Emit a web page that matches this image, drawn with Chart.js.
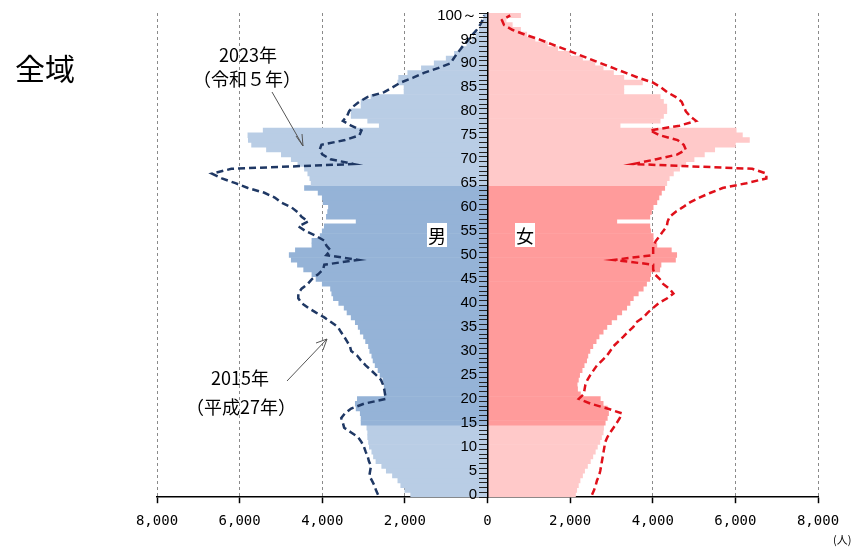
<!DOCTYPE html>
<html>
<head>
<meta charset="utf-8">
<script src="https://cdn.jsdelivr.net/npm/chart.js@4/dist/chart.umd.min.js"></script>
<style>
body { margin: 0; background: #fff; }
#wrap { position: relative; width: 854px; height: 550px; font-family: "Noto Sans CJK JP", sans-serif; }
#wrap canvas { position: absolute; left: 0; top: 0; }
.txt { position: absolute; line-height: 1; white-space: nowrap; color: #000; }
.c { transform: translateX(-50%); }
.sex { position: absolute; background: #fff; font-size: 18px; line-height: 24px; width: 20px; text-align: center; }
svg { position: absolute; left: 0; top: 0; }
</style>
</head>
<body>
<div id="wrap">
	<canvas id="pyramid" width="854" height="550"></canvas>
	<svg width="854" height="550">
		<g stroke="#555" stroke-width="1" fill="none">
			<line x1="272" y1="92" x2="303" y2="146"/>
			<polyline points="296,136 303,146 302,134"/>
			<line x1="287" y1="381" x2="327" y2="339"/>
			<polyline points="316,343 327,339 323,350"/>
		</g>
	</svg>
	<div class="txt" style="left:15px; top:52px; font-size:30px;">全域</div>
	<div class="txt c" style="left:248px; top:45px; font-size:18px;">2023年</div>
	<div class="txt c" style="left:247px; top:69px; font-size:18px;">（令和５年）</div>
	<div class="txt c" style="left:240px; top:368px; font-size:18px;">2015年</div>
	<div class="txt c" style="left:241px; top:397px; font-size:18px;">（平成27年）</div>
	<div class="sex" style="left:427px; top:223px;">男</div>
	<div class="sex" style="left:515px; top:223px;">女</div>
	<div class="txt" style="left:833px; top:534px; font-size:11px;">(人)</div>
</div>
<script>
// 年齢 0〜100歳以上
const ageLabels = Array.from({ length: 101 }, (_, i) => i === 100 ? '100～' : String(i));

// 2023年（令和5年） 男・女 （index = 年齢）
const male2023 = [
	1860, 2000, 2100, 2170, 2300, 2450, 2560, 2700, 2760, 2800,
	2860, 2880, 2900, 2900, 2920, 3060, 3060, 3080, 3180, 3200,
	3150, 2500, 2500, 2500, 2530, 2600, 2650, 2720, 2770, 2800,
	2850, 2880, 2950, 3000, 3080, 3130, 3200, 3300, 3400, 3470,
	3600, 3730, 3770, 3800, 4000, 4150, 4250, 4450, 4600, 4750,
	4800, 4650, 4250, 4250, 4050, 4000, 3950, 3180, 3900, 3870,
	3850, 3980, 4000, 4100, 4430, 4270, 4300, 4350, 4430, 4590,
	4750, 4990, 5350, 5710, 5790, 5800, 5430, 2620, 2900, 3300,
	3300, 3060, 3060, 2820, 2020, 2020, 2170, 2150, 1930, 1600,
	1290, 1000, 800, 640, 500, 370, 280, 200, 140, 100,
	90
];
const female2023 = [
	2130, 2160, 2200, 2240, 2300, 2350, 2420, 2490, 2550, 2610,
	2660, 2720, 2760, 2800, 2810, 2850, 2900, 2930, 2900, 2800,
	2730, 2250, 2180, 2170, 2200, 2230, 2290, 2340, 2400, 2430,
	2480, 2550, 2630, 2700, 2800, 2890, 3000, 3130, 3250, 3370,
	3450, 3530, 3650, 3770, 3850, 3930, 3950, 4170, 4200, 4550,
	4580, 4450, 4100, 4010, 4010, 3950, 3930, 3130, 3930, 3970,
	4010, 4100, 4150, 4210, 4290, 4340, 4400, 4500, 4650, 4800,
	5000, 5250, 5500, 6000, 6340, 6170, 6020, 3210, 4180, 4260,
	4340, 4340, 4260, 4180, 3300, 3300, 3750, 3300, 3050, 2800,
	2600, 2300, 2000, 1700, 1450, 1150, 950, 800, 600, 450,
	800
];

// 2015年（平成27年） 男・女
const male2015 = [
	2650, 2700, 2740, 2800, 2860, 2840, 2820, 2870, 2900, 2950,
	2990, 3050, 3130, 3300, 3470, 3500, 3540, 3450, 3300, 2990,
	2460, 2480, 2500, 2530, 2580, 2700, 2820, 2950, 3060, 3150,
	3300, 3330, 3400, 3470, 3550, 3620, 3780, 3950, 4150, 4340,
	4500, 4580, 4580, 4500, 4350, 4250, 4100, 3980, 3950, 3130,
	3900, 3800, 3900, 3950, 4150, 4400, 4580, 4340, 4500, 4600,
	4750, 5000, 5150, 5400, 5800, 6100, 6430, 6670, 6200, 3250,
	3800, 4000, 4060, 4020, 3450, 3100, 3050, 3300, 3500, 3400,
	3350, 3250, 3100, 2900, 2500, 2300, 2100, 1800, 1540, 1200,
	900, 820, 740, 650, 560, 450, 360, 260, 180, 120,
	80
];
const female2015 = [
	2530, 2580, 2620, 2650, 2700, 2730, 2750, 2770, 2790, 2810,
	2830, 2850, 2900, 2970, 3050, 3130, 3200, 3250, 2900, 2500,
	2210, 2330, 2350, 2370, 2420, 2490, 2570, 2650, 2770, 2890,
	2970, 3050, 3170, 3290, 3400, 3530, 3600, 3770, 3880, 4010,
	4150, 4350, 4500, 4400, 4250, 4170, 4050, 4010, 4010, 3050,
	4010, 4010, 4010, 4080, 4170, 4250, 4340, 4360, 4410, 4550,
	4730, 4900, 5130, 5400, 5690, 6270, 6750, 6750, 6410, 3530,
	4090, 4600, 4800, 4750, 4600, 4170, 3930, 4650, 5050, 4900,
	4800, 4750, 4700, 4550, 4350, 4200, 4000, 3650, 3350, 3050,
	2750, 2450, 2150, 1850, 1550, 1250, 900, 600, 400, 350,
	550
];

const maleWork = '#95b3d7', maleOther = '#b9cde5';
const femaleWork = '#ff9b9b', femaleOther = '#ffc9c9';

function shade(work, other) {
	return ageLabels.map((_, age) => (age >= 15 && age <= 64) ? work : other);
}

const pyramidChart = new Chart(document.getElementById('pyramid'), {
	type: 'bar',
	data: {
		labels: ageLabels,
		datasets: [{
			type: 'line',
			label: '2015年 男',
			data: male2015.map(v => -v),
			yAxisID: 'y',
			borderColor: '#1f3864',
			borderWidth: 2.5,
			borderDash: [7, 4],
			pointRadius: 0,
			fill: false,
			order: 0
		}, {
			type: 'line',
			label: '2015年 女',
			data: female2015,
			yAxisID: 'y',
			borderColor: '#e0101a',
			borderWidth: 2.5,
			borderDash: [7, 4],
			pointRadius: 0,
			fill: false,
			order: 0
		}, {
			label: '2023年 男',
			data: male2023.map(v => -v),
			yAxisID: 'y',
			backgroundColor: shade(maleWork, maleOther),
			borderWidth: 0,
			barPercentage: 1,
			categoryPercentage: 1,
			grouped: false,
			order: 1
		}, {
			label: '2023年 女',
			data: female2023,
			yAxisID: 'y',
			backgroundColor: shade(femaleWork, femaleOther),
			borderWidth: 0,
			barPercentage: 1,
			categoryPercentage: 1,
			grouped: false,
			order: 1
		}]
	},
	options: {
		indexAxis: 'y',
		responsive: false,
		animation: false,
		devicePixelRatio: 1,
		layout: {
			padding: { left: 157, right: 36, top: 13, bottom: 10 }
		},
		plugins: {
			legend: { display: false },
			tooltip: { enabled: false }
		},
		scales: {
			x: {
				min: -8000,
				max: 8000,
				ticks: {
					stepSize: 2000,
					padding: 10,
					color: '#000',
					font: { family: 'DejaVu Sans Mono', size: 14 },
					callback: (value) => Math.abs(value).toLocaleString('en-US')
				},
				grid: {
					color: (ctx) => ctx.tick && ctx.tick.value === 0 ? 'rgba(0,0,0,0)' : '#8a8a8a',
					lineWidth: 1,
					tickColor: '#000',
					tickLength: 6,
					tickWidth: 1.5
				},
				border: { color: '#000', width: 1.5, dash: [3, 3] }
			},
			// 中央の年齢軸（目盛り線のみ）
			y: {
				type: 'category',
				reverse: true,
				offset: true,
				position: { x: 0 },
				ticks: { display: false, autoSkip: false },
				grid: {
					z: 2,
					drawOnChartArea: false,
					tickLength: 8,
					tickColor: '#222',
					tickWidth: 1
				},
				border: { z: 2, color: '#000', width: 1.5 }
			},
			// 年齢ラベル（5歳ごと）
			yAge: {
				type: 'category',
				axis: 'y',
				labels: ageLabels,
				reverse: true,
				offset: true,
				position: { x: -250 },
				ticks: {
					z: 2,
					autoSkip: false,
					color: '#000',
					font: { family: 'Liberation Sans', size: 15 },
					callback: function (value, index) {
						return index % 5 === 0 ? this.getLabelForValue(value) : '';
					}
				},
				grid: { display: false },
				border: { display: false }
			}
		}
	}
});
</script>
</body>
</html>
